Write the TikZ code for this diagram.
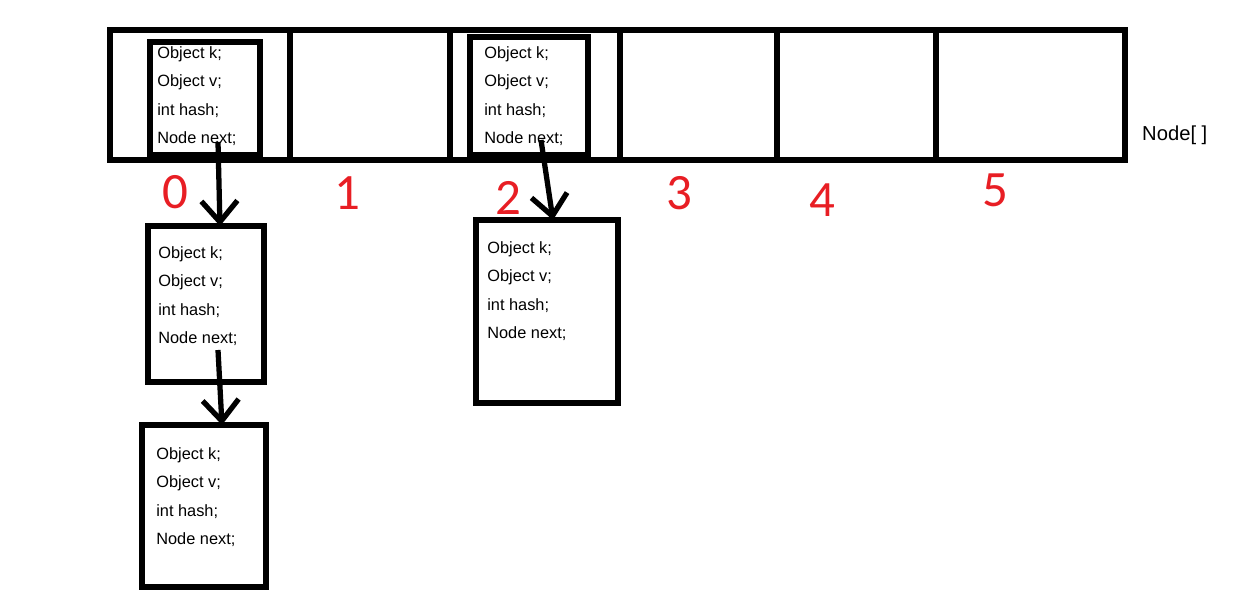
\documentclass[tikz,border=0pt]{standalone}
\usepackage{xcolor}
\usepackage{fontspec}
\setmainfont{Liberation Sans}
\newfontfamily\digitfont{Carlito}
\usetikzlibrary{arrows.meta, positioning}

\definecolor{idxred}{RGB}{232,30,36}

\begin{document}
\begin{tikzpicture}[x=0.02cm, y=-0.02cm,
    record/.style={draw, line width=3pt, inner sep=0pt, outer sep=0pt, anchor=north west},
    fields/.style={align=left, inner sep=0pt, font=\fontsize{9.3}{16.2}\selectfont},
    idx/.style={text=idxred, font=\digitfont\fontsize{29}{30}\selectfont},
    link/.style={line width=3pt, -{Straight Barb[length=0.42cm, width=0.72cm]}}]
    \useasboundingbox (0,0) rectangle (1245,614);

    % Node[] table
    \draw[line width=3.6pt] (110,30) rectangle (1125,160);
    \foreach \x in {290,450,620,777,936}
        \draw[line width=3.6pt] (\x,30) -- (\x,160);
    \node[anchor=west, font=\fontsize{11.5}{12}\selectfont] (tbl) at (1136,135) {Node[ ]};

    % indices
    \foreach \i/\x/\y in {0/175/192, 1/347/193, 2/508/198, 3/679/193, 4/822/200, 5/995/190}
        \node[idx] (i\i) at (\x,\y) {\i};

    % entries
    \node[record, minimum width=2.2cm, minimum height=2.26cm] (e0) at (150,42) {};
    \node[record, minimum width=2.36cm, minimum height=2.36cm] (e2) at (470,37) {};
    \node[record, minimum width=2.32cm, minimum height=3.12cm] (a) at (148,226) {};
    \node[record, minimum width=2.48cm, minimum height=3.24cm] (b) at (142,425) {};
    \node[record, minimum width=2.84cm, minimum height=3.66cm] (c) at (476,220) {};

    \node[fields, below right=0.08cm and 0.14cm of e0.north west] (f0) {Object k;\\Object v;\\int hash;\\Node next;};
    \node[fields, below right=0.18cm and 0.28cm of e2.north west] (f2) {Object k;\\Object v;\\int hash;\\Node next;};
    \node[fields, below right=0.4cm and 0.2cm of a.north west] (fa) {Object k;\\Object v;\\int hash;\\Node next;};
    \node[fields, below right=0.44cm and 0.28cm of b.north west] (fb) {Object k;\\Object v;\\int hash;\\Node next;};
    \node[fields, below right=0.42cm and 0.22cm of c.north west] (fc) {Object k;\\Object v;\\int hash;\\Node next;};

    % next pointers
    \coordinate (n0) at (218,142);
    \coordinate (na) at (218,350);
    \coordinate (n2) at (541,140);
    \draw[link] (n0) -- ([xshift=0.28cm]a.north);
    \draw[link] (na) -- ([xshift=0.36cm]b.north);
    \draw[link] (n2) -- ([xshift=0.12cm]c.north);
\end{tikzpicture}
\end{document}
